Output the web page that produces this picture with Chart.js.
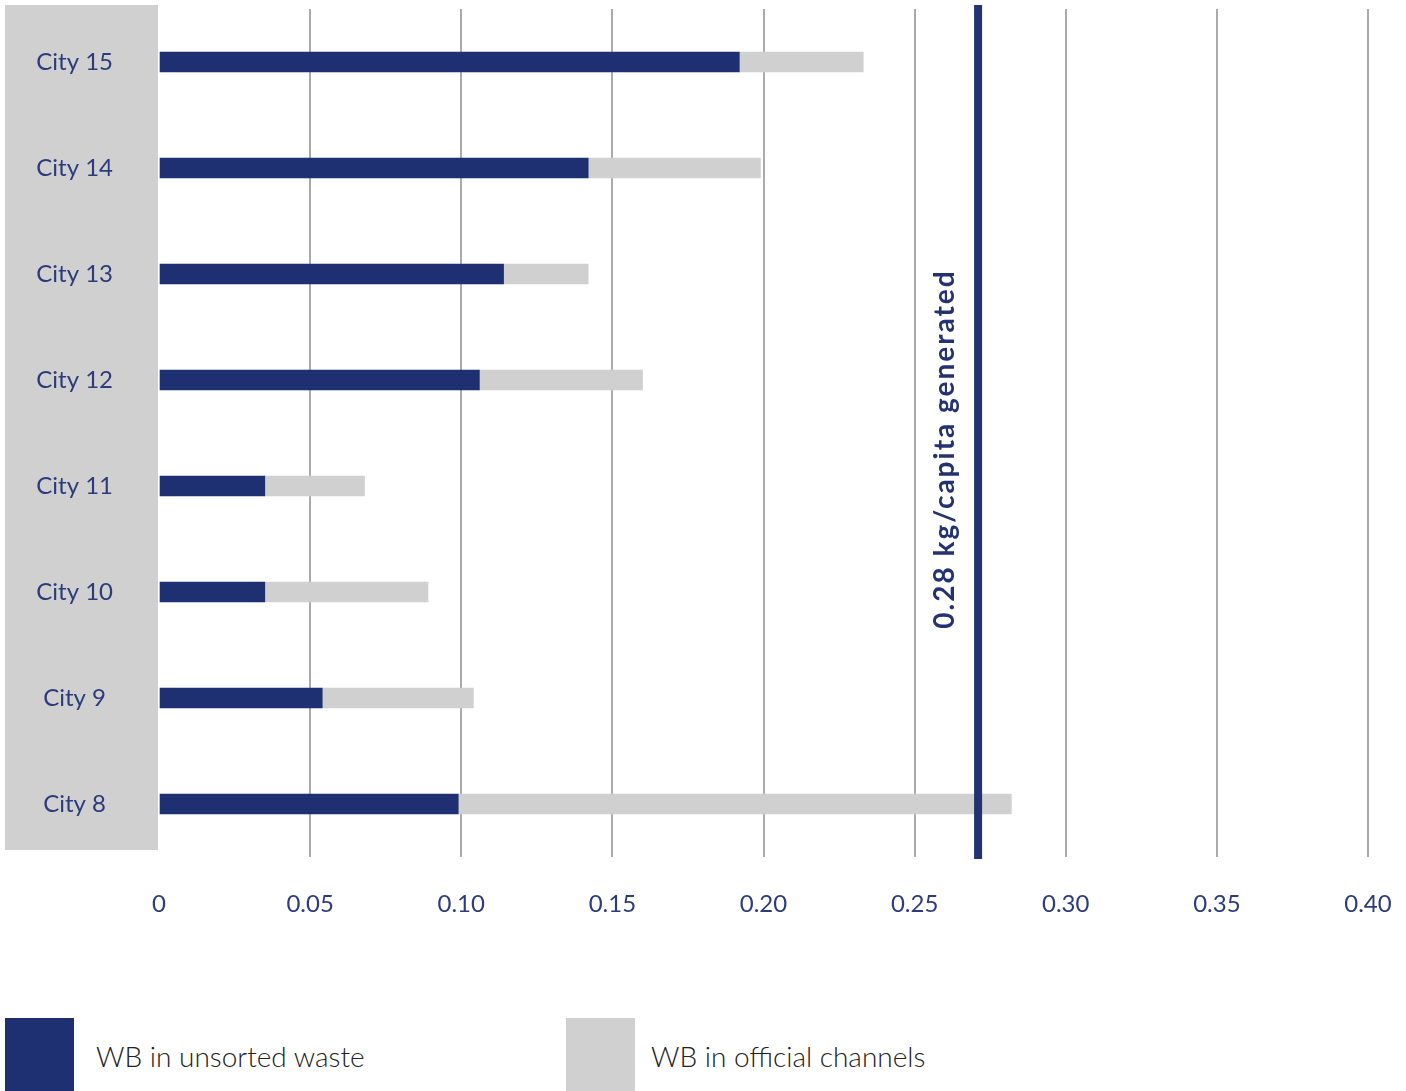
<!DOCTYPE html>
<html>
<head>
<meta charset="utf-8">
<script src="https://cdn.jsdelivr.net/npm/chart.js@4/dist/chart.umd.min.js"></script>
<style>
    body { margin: 0; background: #fff; font-family: Lato, sans-serif; }
    #wrap { position: relative; width: 1406px; height: 1091px; }
    #chartBox { position: absolute; left: 0; top: 0; width: 1406px; height: 960px; }
    .legend-item { position: absolute; top: 1018px; height: 73px; display: flex; align-items: center; }
    .swatch { width: 69px; height: 73px; }
    .legend-item span { font-size: 28px; font-weight: 300; color: #222; padding-top: 2px; }
</style>
</head>
<body>
<div id="wrap">
    <div id="chartBox"><canvas id="wasteChart"></canvas></div>
    <div class="legend-item" style="left:5px"><div class="swatch" style="background:#1e3072; margin-right:22px"></div><span>WB in unsorted waste</span></div>
    <div class="legend-item" style="left:566px"><div class="swatch" style="background:#d0d0d0; margin-right:16px"></div><span>WB in official channels</span></div>
</div>
<script>
// Cities, top to bottom
const cities = ['City 15', 'City 14', 'City 13', 'City 12', 'City 11', 'City 10', 'City 9', 'City 8'];

// kg/capita values
const unsortedWaste = [0.192, 0.142, 0.114, 0.106, 0.035, 0.035, 0.054, 0.099];
const officialChannels = [0.041, 0.057, 0.028, 0.054, 0.033, 0.054, 0.050, 0.183];

// Reference line
const generatedValue = [0.271];
const generatedLabel = ['0.28 kg/capita generated'];

const navy = '#1e3072';
const grey = '#d0d0d0';

// Grey panel behind the city labels
const labelPanel = {
    id: 'labelPanel',
    beforeDraw(chart) {
        const { ctx, chartArea } = chart;
        ctx.save();
        ctx.fillStyle = grey;
        ctx.fillRect(5, 5, chartArea.left - 6, chartArea.bottom - 12);
        ctx.restore();
    }
};

// Vertical line with rotated label
const generatedLine = {
    id: 'generatedLine',
    afterDatasetsDraw(chart) {
        const { ctx, chartArea, scales } = chart;
        const x = scales.x.getPixelForValue(generatedValue[0]);
        ctx.save();
        ctx.strokeStyle = '#233270';
        ctx.lineWidth = 8;
        ctx.beginPath();
        ctx.moveTo(x, chartArea.top - 4);
        ctx.lineTo(x, chartArea.bottom + 2);
        ctx.stroke();

        ctx.translate(x - 33, 449);
        ctx.rotate(-Math.PI / 2);
        ctx.fillStyle = '#233270';
        ctx.font = 'bold 28px Lato';
        ctx.letterSpacing = '2px';
        ctx.textAlign = 'center';
        ctx.textBaseline = 'middle';
        ctx.fillText(generatedLabel[0], 0, 0);
        ctx.restore();
    }
};

const ctx = document.getElementById('wasteChart').getContext('2d');
const wasteChart = new Chart(ctx, {
    type: 'bar',
    data: {
        labels: cities,
        datasets: [{
            label: 'WB in unsorted waste',
            data: unsortedWaste,
            backgroundColor: navy,
            barThickness: 20
        }, {
            label: 'WB in official channels',
            data: officialChannels,
            backgroundColor: grey,
            barThickness: 20
        }]
    },
    options: {
        indexAxis: 'y',
        responsive: true,
        maintainAspectRatio: false,
        animation: false,
        layout: { padding: { top: 9, right: 38, left: 0, bottom: 0 } },
        scales: {
            x: {
                stacked: true,
                min: 0,
                max: 0.4,
                afterFit: scale => {
                    scale.height = 103;
                    scale.paddingLeft = 0;
                    scale.paddingRight = 0;
                },
                border: { display: false },
                grid: {
                    color: c => c.tick && c.tick.value === 0 ? 'rgba(0,0,0,0)' : '#aaaaaa',
                    lineWidth: 2,
                    drawTicks: false
                },
                ticks: {
                    stepSize: 0.05,
                    padding: 33,
                    color: '#2c3b7b',
                    font: { family: 'Lato', size: 24 },
                    callback: v => v === 0 ? '0' : v.toFixed(2)
                }
            },
            y: {
                stacked: true,
                afterFit: scale => {
                    scale.width = 159;
                    scale.paddingTop = 0;
                    scale.paddingBottom = 0;
                },
                border: { display: false },
                grid: { display: false, drawTicks: false },
                ticks: {
                    crossAlign: 'center',
                    padding: 46,
                    color: '#2c3b7b',
                    font: { family: 'Lato', size: 24 }
                }
            }
        },
        plugins: {
            legend: { display: false },
            tooltip: { enabled: false }
        }
    },
    plugins: [labelPanel, generatedLine]
});
</script>
</body>
</html>
